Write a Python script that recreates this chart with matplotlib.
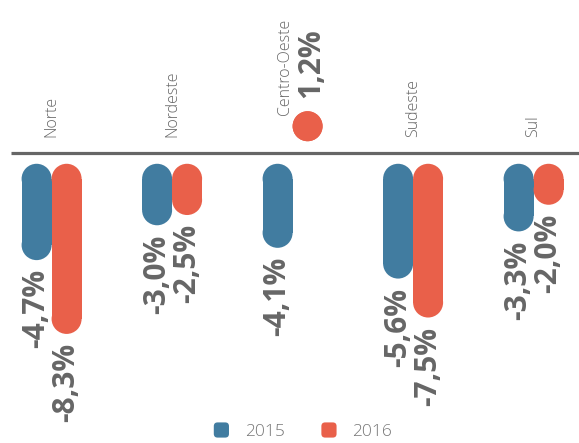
import matplotlib
matplotlib.use('Agg')
import matplotlib.pyplot as plt
from matplotlib.patches import FancyBboxPatch, Rectangle, Ellipse
from matplotlib.legend_handler import HandlerPatch

# variacao por regiao, em %
regioes = ['Norte', 'Nordeste', 'Centro-Oeste', 'Sudeste', 'Sul']
anos = ['2015', '2016']
var_2015 = [-4.7, -3.0, -4.1, -5.6, -3.3]
var_2016 = [-8.3, -2.5, 1.2, -7.5, -2.0]

cores = ['#417CA0', '#E9604A']
cinza = '#666666'

W, H, DPI = 579, 443, 100
px_x = 120.5   # pixels por categoria
px_y = 20.5    # pixels por ponto percentual
bar_w = 30 / px_x
gap = 0.55
cap_h = bar_w * px_x / px_y   # altura do circulo em unidades de y

fig = plt.figure(figsize=(W / DPI, H / DPI), dpi=DPI)
ax = fig.add_axes([0, 0, 1, 1])
ax.set_xlim(-51.6 / px_x, (W - 51.6) / px_x)
ax.set_ylim(-(H - 152.5) / px_y, 152.5 / px_y)
ax.axis('off')

# linha de base
ax.plot([(11 - 51.6) / px_x, ax.get_xlim()[1]], [0, 0], color=cinza, lw=2.3,
        solid_capstyle='butt')

def fmt(v):
  return f'{v:.1f}%'.replace('.', ',')

def capsula(x0, y0, h, cor):
  # barra com pontas arredondadas: retangulo + dois circulos
  xc = x0 + bar_w / 2
  r = cap_h / 2
  ax.add_patch(Ellipse((xc, y0 + r), bar_w, cap_h, fc=cor, ec='none'))
  ax.add_patch(Ellipse((xc, y0 + h - r), bar_w, cap_h, fc=cor, ec='none'))
  if h > cap_h:
    ax.add_patch(Rectangle((x0, y0 + r), bar_w, h - cap_h, fc=cor, ec='none'))

for i, regiao in enumerate(regioes):
  top_pos = None
  for j, valores in enumerate([var_2015, var_2016]):
    v = valores[i]
    x0 = i - bar_w + j * bar_w
    h = max(abs(v), cap_h)
    y0 = -gap - h if v < 0 else gap
    capsula(x0, y0, h, cores[j])
    xc = x0 + bar_w / 2
    if v < 0:
      ax.text(xc, y0 - 0.45, fmt(v), rotation=90, ha='center', va='top',
              fontsize=21.5, fontweight='bold', color=cinza, family='Open Sans')
    else:
      top_pos = y0 + h
      ax.text(xc + 0.03, top_pos + 0.65, fmt(v), rotation=90, ha='center', va='bottom',
              fontsize=21.5, fontweight='bold', color=cinza, family='Open Sans')
  if top_pos is None:
    ax.text(i, 0.76, regiao, rotation=90, ha='center', va='bottom',
            fontsize=11.5, fontweight='light', color=cinza, family='Open Sans')
  else:
    ax.text(i - 0.06, top_pos - 0.2, regiao, rotation=90, ha='center', va='bottom',
            fontsize=11.5, fontweight='light', color=cinza, family='Open Sans')

# legenda com quadrados arredondados
class RoundSquare(HandlerPatch):
  def create_artists(self, legend, orig, xd, yd, width, height, fontsize, trans):
    s = height * 1.25
    p = FancyBboxPatch((xd + (width - s) / 2 - xd * 2, yd + (height - s) / 2 - yd * 2), s, s,
                       boxstyle=f'round,pad=0,rounding_size={s * 0.25}',
                       fc=orig.get_facecolor(), ec='none', transform=trans)
    return [p]

handles = [FancyBboxPatch((0, 0), 1, 1, fc=c) for c in cores]
leg = fig.legend(handles, anos, loc='center', bbox_to_anchor=(302 / W, 1 - 432 / H),
                 ncol=2, frameon=False, handler_map={FancyBboxPatch: RoundSquare()},
                 handlelength=1.1, handletextpad=0.8, columnspacing=2.0,
                 prop={'family': 'Open Sans', 'weight': 'light', 'size': 12.5})
for t in leg.get_texts():
  t.set_color('#777777')

fig.savefig('out.png', dpi=DPI)
